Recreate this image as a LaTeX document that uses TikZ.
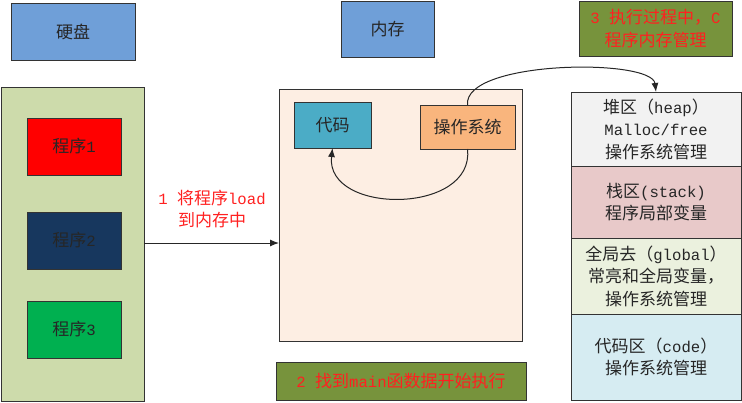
\documentclass[tikz,border=0pt]{standalone}
\usepackage{fontspec}
\setmainfont{Noto Sans CJK SC}
\setmonofont{Liberation Mono}[Scale=0.92]
\usetikzlibrary{arrows.meta, positioning}
\definecolor{labelblue}{HTML}{6F9FD8}
\definecolor{diskgreen}{HTML}{CDDBAB}
\definecolor{prognavy}{HTML}{17375E}
\definecolor{proggreen}{HTML}{00B050}
\definecolor{memcream}{HTML}{FDEEE3}
\definecolor{codecyan}{HTML}{4BACC6}
\definecolor{osorange}{HTML}{F9B57D}
\definecolor{stepolive}{HTML}{77933C}
\definecolor{heapgray}{HTML}{F2F2F2}
\definecolor{stackpink}{HTML}{E8C9C9}
\definecolor{globalcream}{HTML}{EBF1DE}
\definecolor{segblue}{HTML}{D6ECF2}
\definecolor{notered}{HTML}{FF2020}

\begin{document}
\begin{tikzpicture}[x=1pt, y=-1pt,
  box/.style={rectangle, draw=black!80, line width=1pt, align=center, inner sep=0pt, outer sep=0pt, text=black!85, font=\fontsize{17}{22.5}\selectfont},
  title/.style={box, fill=labelblue, minimum width=93pt, minimum height=56pt},
  prog/.style={box, minimum width=94pt, minimum height=57pt},
  stepbox/.style={box, fill=stepolive, text=notered},
  seg/.style={box, minimum width=170pt},
  note/.style={align=center, text=notered, font=\fontsize{17}{22.5}\selectfont},
  arrow/.style={-{Latex[length=9pt, width=7pt]}, line width=1pt, color=black!85}
]
  \useasboundingbox (0,0) rectangle (742,402);

  % titles
  \node[title, minimum width=124pt, minimum height=57pt] (disklabel) at (73,31.5) {硬盘};
  \node[title] (memlabel) at (387.5,29) {内存};
  \node[stepbox, minimum width=153pt, minimum height=55pt] (step3) at (655.5,28.5) {\texttt{3 }执行过程中，\texttt{C}\\程序内存管理};

  % disk with programs
  \node[box, fill=diskgreen, minimum width=143pt, minimum height=314pt] (disk) at (72.5,244) {};
  \node[prog, fill=red] (prog1) at (74,146.5) {程序\texttt{1}};
  \node[prog, fill=prognavy, below=37pt of prog1] (prog2) {程序\texttt{2}};
  \node[prog, fill=proggreen, below=32pt of prog2] (prog3) {程序\texttt{3}};

  % memory
  \node[box, fill=memcream, minimum width=243pt, minimum height=252pt] (mem) at (400.5,215) {};
  \node[box, fill=codecyan, minimum width=77pt, minimum height=46pt] (code) at (332.5,125) {代码};
  \node[box, fill=osorange, minimum width=95pt, minimum height=44pt] (os) at (467.5,127) {操作系统};
  \node[stepbox, minimum width=250pt, minimum height=38pt] (step2) at (401,381) {\texttt{2 }找到\texttt{main}函数据开始执行};

  % memory segments
  \node[seg, fill=heapgray, minimum height=74pt] (heap) at (656,129) {堆区（\texttt{heap}）\\\texttt{Malloc/free}\\操作系统管理};
  \node[seg, fill=stackpink, minimum height=72pt, below=0pt of heap] (stack) {栈区\texttt{(stack)}\\程序局部变量};
  \node[seg, fill=globalcream, minimum height=76pt, below=0pt of stack] (global) {全局去（\texttt{global}）\\常亮和全局变量，\\操作系统管理};
  \node[seg, fill=segblue, minimum height=86pt, below=0pt of global] (codeseg) {代码区（\texttt{code}）\\操作系统管理};

  \node[note] (loadnote) at (212,209) {\texttt{1 }将程序\texttt{load}\\到内存中};

  \draw[arrow] (disk.east |- 0,243) -- (mem.west |- 0,243);
  \draw[arrow] (os.south) .. controls (475,215) and (325,215) .. (code.south);
  \draw[arrow] (os.north) .. controls (463,60) and (652,58) .. (heap.north);
\end{tikzpicture}
\end{document}
